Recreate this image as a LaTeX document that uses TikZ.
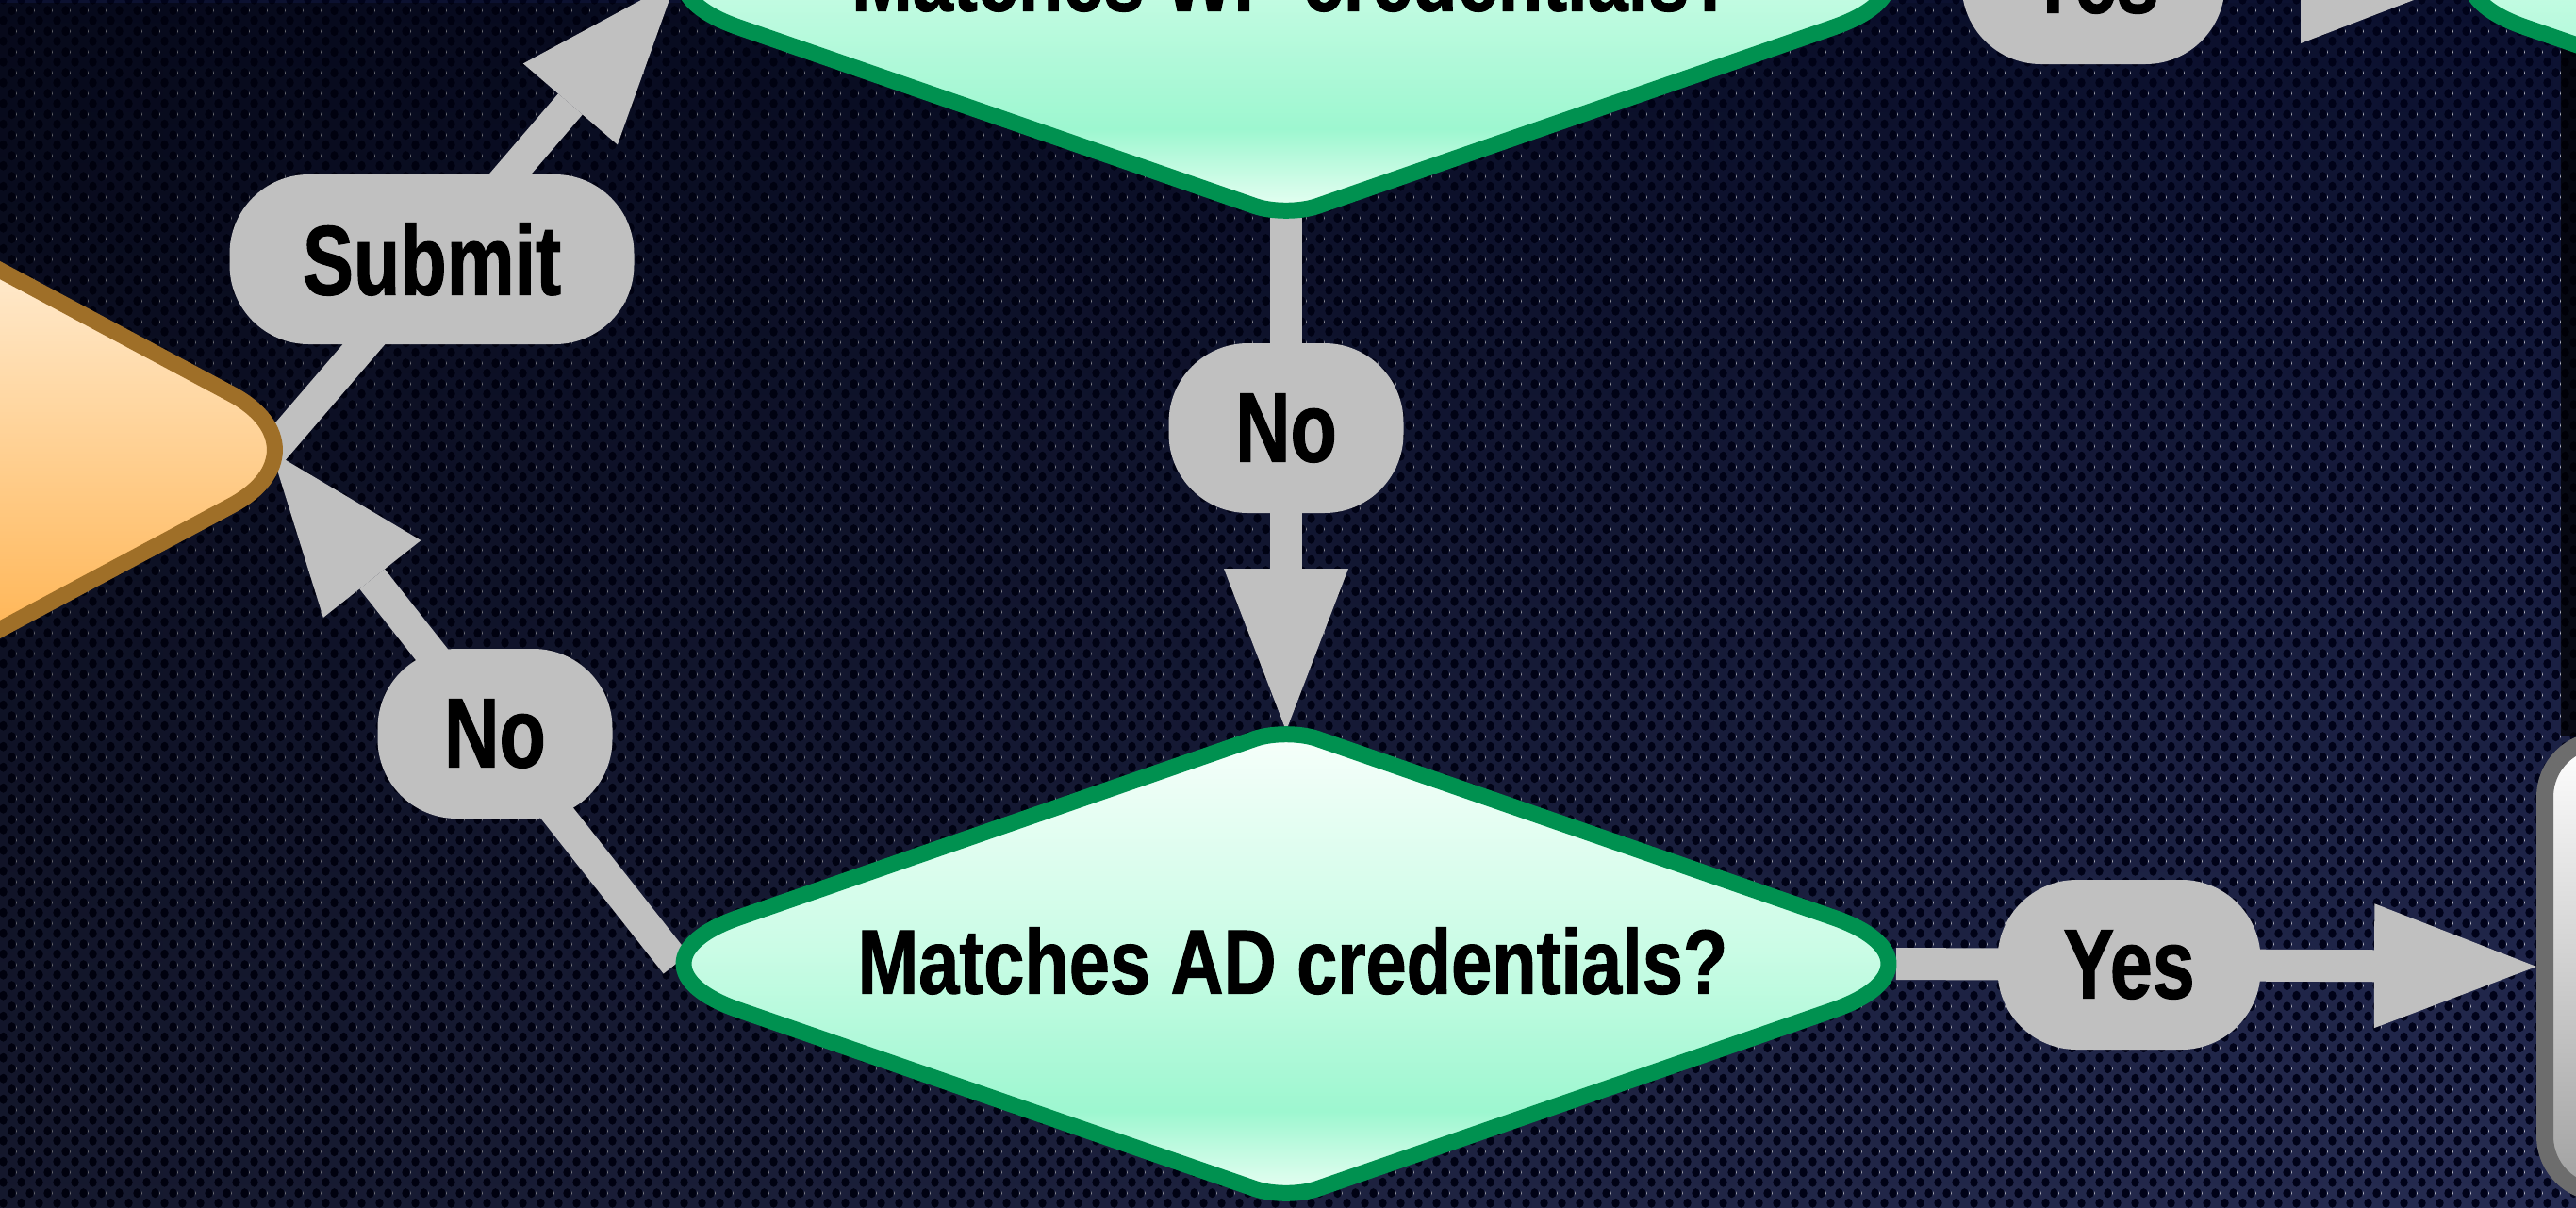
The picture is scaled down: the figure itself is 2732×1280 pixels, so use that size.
\documentclass[tikz,border=0pt]{standalone}
\usepackage{fontspec}
\newfontfamily\condfont{Liberation Sans}[FakeStretch=0.77, BoldFeatures={FakeBold=1}]
\newfontfamily\diafont{Liberation Sans}[FakeStretch=0.8, BoldFeatures={FakeBold=1}]
\usetikzlibrary{arrows.meta,patterns.meta,fadings}

\definecolor{flowgray}{HTML}{C0C0C0}
\definecolor{greenline}{HTML}{009150}
\definecolor{orangeline}{HTML}{9F6F28}
\definecolor{boxline}{HTML}{6D6D6D}
\definecolor{bgtop}{HTML}{0C1130}
\definecolor{bgbot}{HTML}{262C52}
\definecolor{holec}{HTML}{01031A}
\definecolor{mintA}{HTML}{EAFFF4}
\definecolor{mintB}{HTML}{9DF7D0}
\definecolor{mintC}{HTML}{CBFCE6}
\definecolor{mintD}{HTML}{F7FFFB}
\definecolor{orgtop}{HTML}{FFFAF2}
\definecolor{orgbot}{HTML}{FFA632}
\definecolor{boxA}{HTML}{D6D6D6}
\definecolor{boxB}{HTML}{A3A3A3}

\pgfdeclareverticalshading{mintshade}{100bp}{color(0bp)=(mintA); color(25bp)=(mintA); color(34bp)=(mintB); color(52bp)=(mintC); color(75bp)=(mintD); color(100bp)=(mintD)}
\pgfdeclareverticalshading{boxshade}{100bp}{color(0bp)=(boxA); color(25bp)=(boxA); color(26.5bp)=(boxB); color(75bp)=(white); color(100bp)=(white)}

\tikzdeclarepattern{
  name=honeycomb, type=colored,
  bottom left={(0pt,0pt)}, top right={(19pt,22pt)},
  tile size={(19pt,22pt)},
  code={
    \fill[holec] (4.75pt,5.5pt) ellipse [x radius=4.4pt, y radius=5.2pt];
    \fill[holec] (14.25pt,16.5pt) ellipse [x radius=4.4pt, y radius=5.2pt];
  }
}

% rounded diamond: #1 style, #2 cx, #3 cy, #4 half width, #5 half height, #6 side rounding, #7 tip rounding
\newcommand\rdiamond[7]{%
  \pgfmathsetmacro\rdang{atan2(#5,#4)}%
  \pgfmathsetmacro\rdsx{(#6)*cos(\rdang)}%
  \pgfmathsetmacro\rdsy{(#6)*sin(\rdang)}%
  \pgfmathsetmacro\rdtx{(#7)*cos(\rdang)}%
  \pgfmathsetmacro\rdty{(#7)*sin(\rdang)}%
  \pgfmathsetmacro\rdqsx{0.4477*\rdsx}%
  \pgfmathsetmacro\rdqsy{0.4477*\rdsy}%
  \pgfmathsetmacro\rdqtx{0.4477*\rdtx}%
  \pgfmathsetmacro\rdqty{0.4477*\rdty}%
  \path[#1] ({#2-(#4)/2},{#3-(#5)/2})
    -- ({#2-\rdtx},{#3-#5+\rdty})
    .. controls ({#2-\rdqtx},{#3-#5+\rdqty}) and ({#2+\rdqtx},{#3-#5+\rdqty}) .. ({#2+\rdtx},{#3-#5+\rdty})
    -- ({#2+#4-\rdsx},{#3-\rdsy})
    .. controls ({#2+#4-\rdqsx},{#3-\rdqsy}) and ({#2+#4-\rdqsx},{#3+\rdqsy}) .. ({#2+#4-\rdsx},{#3+\rdsy})
    -- ({#2+\rdtx},{#3+#5-\rdty})
    .. controls ({#2+\rdqtx},{#3+#5-\rdqty}) and ({#2-\rdqtx},{#3+#5-\rdqty}) .. ({#2-\rdtx},{#3+#5-\rdty})
    -- ({#2-#4+\rdsx},{#3+\rdsy})
    .. controls ({#2-#4+\rdqsx},{#3+\rdqsy}) and ({#2-#4+\rdqsx},{#3-\rdqsy}) .. ({#2-#4+\rdsx},{#3-\rdsy})
    -- cycle;
}

\tikzset{
  flow/.style={draw=flowgray, line width=34pt, -{Triangle[length=172pt,width=132pt,line width=0pt]}},
  pill/.style={fill=flowgray, rounded corners=84pt, minimum height=180pt, inner sep=0pt,
    font=\condfont\bfseries\fontsize{105pt}{110pt}\selectfont, text=black},
  dtext/.style={inner sep=0pt, font=\diafont\bfseries\fontsize{97pt}{100pt}\selectfont, text=black},
  greenshape/.style={draw=greenline, line width=17pt, line join=round, shade, shading=mintshade},
  orangeshape/.style={draw=orangeline, line width=17pt, line join=round, top color=orgtop, bottom color=orgbot},
}

\begin{document}
\begin{tikzpicture}[x=1pt, y=-1pt]
\useasboundingbox (0,0) rectangle (2732,1280);
\clip (0,0) rectangle (2732,1280);

% background
\shade[top color=bgtop, bottom color=bgbot] (0,0) rectangle (2732,1280);
\fill[pattern=honeycomb] (0,0) rectangle (2732,1280);
\fill[black, opacity=0.45, path fading=east] (0,0) rectangle (2732,1280);
\fill[black, opacity=0.7] (2716,0) rectangle (2732,780);

% anchor coordinates
\coordinate (orV) at (288,479);
\coordinate (wpL) at (717,-20);
\coordinate (wpR) at (2011,-20);
\coordinate (wpB) at (1364,227);
\coordinate (adL) at (717,1022);
\coordinate (adR) at (2011,1022);
\coordinate (adT) at (1364,775);
\coordinate (rdL) at (2612,-20);

% target box
\node[draw=boxline, line width=18pt, rounded corners=60pt, shade, shading=boxshade,
      minimum width=482pt, minimum height=480pt, inner sep=0pt] (box) at (2940,1025) {};

% connectors
\draw[flow] (orV) -- (wpL);
\draw[flow] (adL) -- (orV);
\draw[flow] (wpB) -- (adT);
\draw[flow] (wpR) -- (rdL);
\draw[flow] (adR) -- (box.west);

% shapes
\rdiamond{orangeshape}{-244}{477}{600}{321}{125}{40}
\rdiamond{greenshape}{1364}{-20}{722}{250}{150}{35}
\rdiamond{greenshape}{1364}{1022}{722}{250}{150}{35}
\rdiamond{greenshape}{3259}{-20}{722}{250}{150}{35}

% texts
\node[dtext] (wptext) at (1371,-23) {Matches WP credentials?};
\node[dtext] (adtext) at (1371,1019) {Matches AD credentials?};

% labels
\node[pill, minimum width=429pt] (submit) at (458,275) {Submit};
\node[pill, minimum width=249pt] (noA) at (1364,454) {No};
\node[pill, minimum width=249pt] (noB) at (525,778) {No};
\node[pill, minimum width=279pt] (yesA) at (2220,-22) {Yes};
\node[pill, minimum width=279pt] (yesB) at (2258,1023) {Yes};
\end{tikzpicture}
\end{document}
